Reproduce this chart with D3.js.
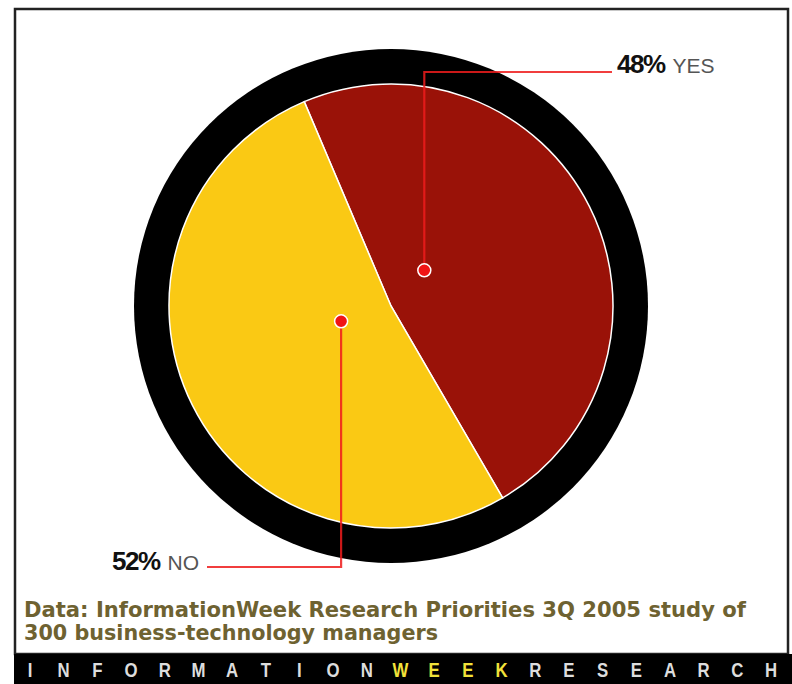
<!DOCTYPE html>
<html>
<head>
<meta charset="utf-8">
<script src="https://cdn.jsdelivr.net/npm/d3@7"></script>
<style>
  body { margin: 0; background: #fff; }
  svg { display: block; }
</style>
</head>
<body>
<svg width="792" height="684"></svg>
<script>
let WIDTH  = 792,
    HEIGHT = 684,
    CX     = 391,
    CY     = 306,
    R_OUT  = 257,
    R_IN   = 222;

// answers and their shares
let answers  = ["YES", "NO"];
let percents = [48, 52];
let colors   = ["#9a1208", "#fac914"];
let labels   = ["48%", "52%"];

// where the dots sit inside each slice (angle in degrees, share of radius)
let dotAngle  = [43, 253];
let dotRadius = [0.22, 0.235];

let source = [
    "Data: InformationWeek Research Priorities 3Q 2005 study of",
    "300 business-technology managers"
];
let brand = "INFORMATIONWEEKRESEARCH".split("");

let svg = d3.select("svg");

// frame
svg.append("rect")
   .attr("x", 15).attr("y", 9)
   .attr("width", 773).attr("height", 645)
   .attr("fill", "#fff")
   .attr("stroke", "#222")
   .attr("stroke-width", 2.5);

let g = svg.append("g")
           .attr("transform", "translate(" + CX + "," + CY + ")");

// black ring
g.append("circle")
 .attr("r", R_OUT)
 .attr("fill", "#000");

let start = -23 * Math.PI / 180;
let pie = d3.pie()
            .sort(null)
            .startAngle(start)
            .endAngle(start + 2 * Math.PI)
            .value(function (d) { return d; });

let arc = d3.arc().innerRadius(0).outerRadius(R_IN);

g.selectAll("path.slice")
 .data(pie(percents))
 .enter()
 .append("path")
 .attr("class", "slice")
 .attr("d", arc)
 .attr("fill", function (d, i) { return colors[i]; })
 .attr("stroke", "#fff")
 .attr("stroke-width", 1.5);

// leader lines
let rScale = d3.scaleLinear().domain([0, 1]).range([0, R_IN]);
function dotPos(i) {
    let a = dotAngle[i] * Math.PI / 180, r = rScale(dotRadius[i]);
    return [CX + r * Math.sin(a), CY - r * Math.cos(a)];
}
let ends = [[72, 612], [567, 207]];

answers.forEach(function (name, i) {
    let p = dotPos(i);
    svg.append("path")
       .attr("d", "M" + p[0] + "," + p[1] + "V" + ends[i][0] + "H" + ends[i][1])
       .attr("fill", "none")
       .attr("stroke", "#ee1c1c")
       .attr("stroke-opacity", 0.85)
       .attr("stroke-width", 2.2);
    svg.append("circle")
       .attr("cx", p[0]).attr("cy", p[1])
       .attr("r", 6.5)
       .attr("fill", "#f01414")
       .attr("stroke", "#fff")
       .attr("stroke-width", 1.5);
});

// labels
let labelPos = [[617, 73], [112, 570]];
answers.forEach(function (name, i) {
    let t = svg.append("text")
               .attr("x", labelPos[i][0])
               .attr("y", labelPos[i][1])
               .attr("font-family", "Liberation Sans, Arial, sans-serif");
    t.append("tspan")
     .attr("font-size", 26)
     .attr("font-weight", "bold")
     .attr("fill", "#111")
     .attr("letter-spacing", -1.5)
     .text(labels[i]);
    t.append("tspan")
     .attr("dx", 8)
     .attr("font-size", 21)
     .attr("fill", "#555")
     .text(name);
});

// source note
let srcWidth = [722, 414];
svg.selectAll("text.src")
   .data(source)
   .enter()
   .append("text")
   .attr("class", "src")
   .attr("x", 24)
   .attr("y", function (d, i) { return 617 + i * 23; })
   .attr("font-family", "DejaVu Sans, sans-serif")
   .attr("font-weight", "bold")
   .attr("font-size", 22)
   .attr("fill", "#6e6231")
   .attr("textLength", function (d, i) { return srcWidth[i]; })
   .attr("lengthAdjust", "spacingAndGlyphs")
   .text(function (d) { return d; });

// brand bar
svg.append("rect")
   .attr("x", 14).attr("y", 654)
   .attr("width", WIDTH - 14).attr("height", HEIGHT - 654)
   .attr("fill", "#000");

let x = d3.scalePoint()
          .domain(d3.range(brand.length))
          .range([30, 771]);

svg.selectAll("text.brand")
   .data(brand)
   .enter()
   .append("text")
   .attr("class", "brand")
   .attr("x", function (d, i) { return x(i); })
   .attr("y", 677)
   .attr("text-anchor", "middle")
   .attr("font-family", "Liberation Sans, Arial, sans-serif")
   .attr("font-weight", "bold")
   .attr("font-size", 21)
   .attr("fill", function (d, i) { return (i >= 11 && i <= 14) ? "#f2e23a" : "#ddd"; })
   .attr("transform", function (d, i) { return "translate(" + x(i) + ",0) scale(0.8,1) translate(" + (-x(i)) + ",0)"; })
   .text(function (d) { return d; });
</script>
</body>
</html>
